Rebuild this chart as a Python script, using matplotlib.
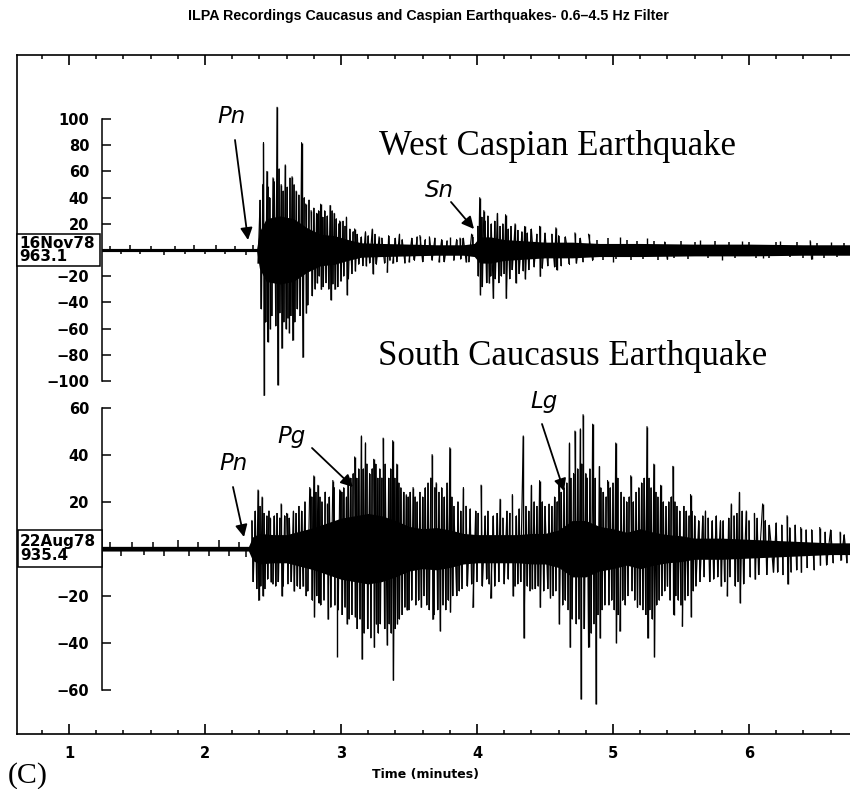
import matplotlib
matplotlib.use('Agg')
from matplotlib import pyplot as plt
from matplotlib.patches import Rectangle
import numpy as np

W, H = 850, 789

# x range of the frame (minutes)
x_left, x_right = 0.6176, 6.7426

# ---- West Caspian trace (16Nov78) ----
top_onset = 2.385
# half width of the solid black core of the trace
top_env_t = [1.24, 2.38, 2.40, 2.45, 2.55, 2.65, 2.75, 2.85, 2.95, 3.05, 3.15, 3.30,
             3.50, 3.70, 3.90, 3.98, 4.02, 4.10, 4.20, 4.35, 4.50, 4.70, 4.90, 5.20,
             5.60, 6.00, 6.40, 6.74]
top_core = [1.2, 1.2, 14, 24, 26, 24, 17, 12, 11, 8, 5.5, 5,
            4.5, 4, 4, 5, 10, 10, 8, 7, 6, 6, 5, 5,
            4.5, 4.5, 4, 4]
# largest peaks
top_spk_t = [2.39, 2.43, 2.435, 2.455, 2.46, 2.48, 2.50, 2.53, 2.535, 2.56, 2.565,
             2.59, 2.595, 2.62, 2.64, 2.645, 2.67, 2.71, 2.72, 2.74, 2.745, 2.78,
             2.82, 2.825, 2.85, 2.855, 2.92, 2.925, 2.95, 2.955, 2.99, 3.04, 3.045,
             3.10, 3.105, 3.18, 3.185, 3.23, 3.235, 3.28, 3.34, 3.38, 3.43, 3.50,
             3.58, 3.65, 3.72, 3.80, 3.875, 3.92, 3.96, 4.02, 4.025, 4.05, 4.09,
             4.12, 4.15, 4.21, 4.215, 4.28, 4.285, 4.35, 4.355, 4.46, 4.465, 4.58,
             4.585, 4.72, 4.73, 4.82, 5.00, 5.05, 5.25, 5.40, 5.64, 5.80, 5.95,
             6.10, 6.23, 6.45, 6.46, 6.60]
top_spk_v = [-10, 82, -111, 60, -70, -60, 55, 109, -103, 50, -75,
             65, -60, -63, 56, -69, 45, 82, -82, 35, -48, 30,
             28, -25, 35, -30, 34, -38, 28, -30, 22, 25, -34,
             16, -16, 14, -12, 16, -18, 10, -17, -10, 12, -9,
             11, 10, -9, 10, 9, -9, 12, 40, -34, 30, -25,
             -37, 28, 27, -37, 20, -25, 18, -22, 18, -20, 17,
             -15, 13, -10, 12, -9, 10, 9, -7, 8, -8, 7,
             -6, 7, 7, -7, 6]
# smaller swings
top_wig_t = [1.30, 1.38, 1.45, 1.52, 1.60, 1.70, 1.78, 1.85, 1.92, 2.00, 2.08, 2.15,
             2.22, 2.30, 2.35, 2.405, 2.415, 2.425, 2.445, 2.465, 2.475, 2.49, 2.51,
             2.52, 2.545, 2.55, 2.575, 2.58, 2.605, 2.61, 2.625, 2.63, 2.655, 2.66,
             2.68, 2.69, 2.70, 2.73, 2.755, 2.765, 2.79, 2.80, 2.81, 2.835, 2.84,
             2.865, 2.87, 2.88, 2.89, 2.90, 2.91, 2.935, 2.94, 2.965, 2.975, 2.985,
             3.00, 3.015, 3.02, 3.03, 3.055, 3.065, 3.08, 3.09, 3.12, 3.13, 3.15,
             3.16, 3.20, 3.21, 3.25, 3.26, 3.30, 3.32, 3.35, 3.36, 3.40, 3.41, 3.45,
             3.47, 3.52, 3.54, 3.56, 3.60, 3.62, 3.67, 3.69, 3.74, 3.76, 3.78, 3.83,
             3.85, 3.88, 3.90, 3.94, 3.97, 4.005, 4.01, 4.035, 4.04, 4.06, 4.07,
             4.08, 4.10, 4.105, 4.13, 4.135, 4.16, 4.17, 4.18, 4.19, 4.20, 4.23,
             4.24, 4.25, 4.26, 4.30, 4.31, 4.33, 4.34, 4.37, 4.38, 4.40, 4.42, 4.44,
             4.48, 4.50, 4.52, 4.55, 4.57, 4.60, 4.62, 4.65, 4.68, 4.76, 4.78, 4.85,
             4.88, 4.93, 4.96, 5.02, 5.10, 5.13, 5.18, 5.22, 5.30, 5.33, 5.38, 5.45,
             5.50, 5.55, 5.60, 5.70, 5.75, 5.85, 5.90, 6.00, 6.05, 6.15, 6.20, 6.30,
             6.35, 6.40, 6.50, 6.55, 6.65, 6.70]
top_wig_v = [3, -3, 3.5, -3, 3, -3.5, 3, -3, 4, -3, 3.5, -3,
             3, -3.5, 4, 38, -45, 50, -55, 48, 40, -50, 52,
             -58, 62, -48, 45, -55, 48, -52, 55, -50, 50, -55,
             -45, 42, -50, 40, -42, 38, -35, 32, -30, 30, -20,
             25, -28, 30, -25, 26, -30, 30, -26, 24, -28, 20,
             -24, 22, -20, 18, -22, 16, -18, 14, 12, -11, 10,
             -12, 11, -10, 12, -11, 9, -10, 11, -8, 9, -9, 8,
             -10, 9, -8, 10, -9, 8, -8, 9, 8, -9, 7, -8,
             8, -7, 9, -9, 10, 18, -20, 25, -28, 22, -25,
             26, -20, 20, 22, -22, -25, 18, -20, 20, -18, 16,
             -22, 18, -15, 15, -18, 14, -16, 13, -15, 16, -13, 12,
             -14, 13, -12, 12, -13, 11, -12, 10, -11, 9, -9, -8,
             8, -8, 9, -7, 8, -8, 7, -7, 7, -8, 6, -6,
             7, -7, 6, -6, 7, 6, -6, 6, -6, -6, 6, -5,
             6, -6, 5, -6, -5, 5]

# ---- South Caucasus trace (22Aug78) ----
bot_onset = 2.335
bot_env_t = [1.24, 2.32, 2.35, 2.40, 2.50, 2.60, 2.70, 2.80, 2.90, 3.00, 3.10, 3.20,
             3.30, 3.40, 3.50, 3.60, 3.70, 3.80, 3.90, 4.00, 4.10, 4.20, 4.30, 4.40,
             4.50, 4.60, 4.70, 4.80, 4.90, 5.00, 5.10, 5.20, 5.30, 5.40, 5.50, 5.60,
             5.80, 6.00, 6.20, 6.40, 6.60, 6.74]
bot_core = [1, 1, 5, 6.5, 6, 6, 7.5, 9, 11, 13, 14, 15,
            14, 12, 9.5, 8.5, 9, 8, 6.5, 6, 6, 6, 6, 6.5,
            6.5, 8, 12, 12, 9.5, 8.5, 7, 8.5, 7, 6, 5.5, 4.5,
            4.5, 4, 3.5, 3, 2.5, 2.5]
bot_spk_t = [2.39, 2.395, 2.42, 2.425, 2.48, 2.485, 2.56, 2.565, 2.60, 2.65, 2.655,
             2.72, 2.77, 2.80, 2.805, 2.83, 2.835, 2.90, 2.905, 2.94, 2.97, 2.99,
             3.04, 3.045, 3.10, 3.105, 3.15, 3.155, 3.18, 3.24, 3.245, 3.26, 3.31,
             3.34, 3.38, 3.385, 3.41, 3.415, 3.48, 3.485, 3.53, 3.59, 3.67, 3.675,
             3.70, 3.73, 3.80, 3.805, 3.90, 3.97, 4.03, 4.10, 4.17, 4.26, 4.265,
             4.34, 4.345, 4.40, 4.405, 4.46, 4.465, 4.54, 4.60, 4.605, 4.68, 4.685,
             4.72, 4.76, 4.765, 4.78, 4.82, 4.85, 4.875, 4.90, 4.905, 4.96, 5.02,
             5.025, 5.05, 5.13, 5.18, 5.25, 5.255, 5.30, 5.305, 5.35, 5.40, 5.44,
             5.445, 5.51, 5.57, 5.575, 5.68, 5.79, 5.795, 5.84, 5.87, 5.93, 5.935,
             5.98, 6.04, 6.045, 6.10, 6.18, 6.28, 6.285, 6.38, 6.385, 6.52, 6.525,
             6.67, 6.675]
bot_spk_v = [25, -22, 22, -20, 13, -14, 19, -20, 15, 16, -18,
             -16, 26, 31, -29, 27, -23, 19, -30, 29, -46, 25,
             22, -32, 39, -29, 48, -47, 45, 38, -42, -32, 47,
             -41, 46, -56, 36, -32, 23, -26, 26, -25, 40, -30,
             28, -35, 43, -27, 26, -25, 27, -21, 21, 23, -20,
             48, -38, 27, -17, 29, -25, -21, 29, -32, 45, -42,
             50, 51, -64, 57, -42, 53, -66, 35, -38, 29, 45,
             -40, -35, 31, -25, 52, -38, 36, -46, 27, -16, 35,
             -28, -33, 23, -29, 16, 12, -16, -20, 19, 24, -23,
             16, 15, -13, 19, -10, 14, -15, 9, -10, 9, -7,
             7, -5]
bot_wig_t = [1.30, 1.38, 1.46, 1.55, 1.62, 1.70, 1.80, 1.88, 1.95, 2.03, 2.10, 2.18,
             2.25, 2.30, 2.345, 2.355, 2.37, 2.38, 2.405, 2.41, 2.435, 2.44, 2.455,
             2.46, 2.47, 2.50, 2.51, 2.52, 2.53, 2.54, 2.55, 2.575, 2.585, 2.61,
             2.62, 2.635, 2.67, 2.68, 2.69, 2.70, 2.71, 2.735, 2.745, 2.755, 2.785,
             2.79, 2.815, 2.82, 2.845, 2.85, 2.86, 2.875, 2.885, 2.915, 2.925, 2.95,
             2.955, 2.98, 3.005, 3.01, 3.02, 3.03, 3.055, 3.06, 3.07, 3.08, 3.09,
             3.115, 3.12, 3.13, 3.14, 3.165, 3.17, 3.19, 3.195, 3.21, 3.22, 3.23,
             3.255, 3.27, 3.275, 3.285, 3.29, 3.30, 3.32, 3.325, 3.35, 3.355, 3.365,
             3.37, 3.395, 3.40, 3.425, 3.43, 3.44, 3.45, 3.46, 3.47, 3.495, 3.50,
             3.51, 3.52, 3.545, 3.55, 3.56, 3.57, 3.58, 3.60, 3.61, 3.62, 3.63,
             3.64, 3.65, 3.66, 3.685, 3.69, 3.71, 3.72, 3.74, 3.75, 3.76, 3.77,
             3.78, 3.79, 3.815, 3.82, 3.83, 3.85, 3.86, 3.87, 3.88, 3.89, 3.92,
             3.93, 3.95, 3.96, 3.99, 4.00, 4.01, 4.04, 4.06, 4.07, 4.08, 4.09,
             4.12, 4.13, 4.15, 4.16, 4.19, 4.20, 4.22, 4.23, 4.24, 4.28, 4.29,
             4.30, 4.31, 4.32, 4.36, 4.37, 4.38, 4.39, 4.42, 4.43, 4.44, 4.45,
             4.48, 4.49, 4.50, 4.52, 4.53, 4.55, 4.56, 4.57, 4.58, 4.59, 4.62,
             4.63, 4.64, 4.65, 4.66, 4.67, 4.69, 4.70, 4.71, 4.73, 4.74, 4.75,
             4.77, 4.79, 4.80, 4.81, 4.83, 4.84, 4.86, 4.87, 4.89, 4.91, 4.92,
             4.93, 4.94, 4.95, 4.97, 4.98, 4.99, 5.00, 5.01, 5.035, 5.04, 5.06,
             5.07, 5.08, 5.09, 5.10, 5.11, 5.12, 5.14, 5.15, 5.16, 5.17, 5.19,
             5.20, 5.21, 5.22, 5.23, 5.24, 5.265, 5.27, 5.28, 5.29, 5.315, 5.32,
             5.33, 5.34, 5.36, 5.37, 5.38, 5.39, 5.41, 5.42, 5.43, 5.455, 5.46,
             5.47, 5.48, 5.49, 5.50, 5.52, 5.53, 5.54, 5.55, 5.56, 5.58, 5.59,
             5.60, 5.61, 5.63, 5.64, 5.66, 5.67, 5.70, 5.71, 5.73, 5.74, 5.76,
             5.77, 5.81, 5.82, 5.85, 5.86, 5.89, 5.90, 5.91, 5.92, 5.95, 5.96,
             6.00, 6.01, 6.06, 6.07, 6.12, 6.13, 6.15, 6.20, 6.21, 6.24, 6.25,
             6.30, 6.31, 6.34, 6.35, 6.42, 6.43, 6.46, 6.48, 6.56, 6.57, 6.60,
             6.62, 6.70, 6.72]
bot_wig_v = [3, -3, 3, -2.5, 3, -3, 3.5, -3, 3, -3, 3.5, -3,
             3, -3.5, 12, -14, 16, -17, 18, -16, 15, -17, 14,
             -13, 16, -15, 14, -16, 15, -14, 13, -16, 14, -15,
             13, -14, 15, -16, 18, -17, 16, 20, -20, -18, 22,
             -22, 24, -20, 22, -24, 20, -22, 24, 22, -25, 26,
             -24, -26, 24, -28, 26, -25, 28, -30, 30, -28, 32,
             30, -34, 34, -30, 34, -36, 36, -34, 32, -38, 34,
             36, 30, -36, 34, -32, 30, -34, 36, 30, -32, 34,
             -36, 30, -34, 28, -30, 26, -28, 24, -25, 22, -26,
             24, -22, 22, -24, 20, -22, 24, 22, -20, 26, -24,
             28, -26, 30, -28, 26, -26, 24, 26, -24, 22, -26,
             28, -22, 22, -20, 18, -20, 20, -18, 16, -17, 18,
             -16, 17, -15, 16, -14, 15, -16, 14, -13, 16, -15,
             14, -16, 15, -14, 13, -15, 16, -13, 15, -16, 14,
             -15, 17, -14, 18, -16, 16, -18, 20, -17, 18, -16,
             20, -18, 18, -17, 19, 18, -20, 22, -18, 20, 24,
             -24, 26, -22, 28, -26, 30, -30, 32, -32, 34, -30,
             36, -34, 32, 30, 34, -36, -32, 30, -28, 26, -26,
             24, -24, 22, -24, 26, -22, 28, -26, 30, -28, 24,
             -22, 22, -24, 20, -20, 22, -18, 20, -22, 24, 26,
             -24, 28, -26, 30, -28, 30, -26, 26, -30, 24, -24,
             22, -22, -20, 20, -18, 18, 20, -22, 22, 20, -20,
             18, -22, 16, -24, 18, -22, 16, -20, 14, 16, -18,
             14, -16, 12, -14, 14, -12, 13, -14, 12, -13, 14,
             -12, 12, -14, 13, -12, 14, -16, 15, -14, 16, -15,
             12, -12, 13, -11, 12, -11, 10, 11, -10, 10, -11,
             9, -10, 10, -9, 8, -8, 8, -9, 7, -7, 8,
             -6, 6, -6]

top_ticks = [-100, -80, -60, -40, -20, 20, 40, 60, 80, 100]
bot_ticks = [-60, -40, -20, 20, 40, 60]


def fx(px):
    return px / W


def fy(py):
    return 1 - py / H


fig = plt.figure(figsize=(8.5, 7.89), dpi=100)
rect = [fx(17), fy(734), fx(850) - fx(17), fy(55) - fy(734)]

# frame with time axis
ax = fig.add_axes(rect)
ax.set_xlim(x_left, x_right)
ax.set_ylim(0, 1)
ax.spines['right'].set_visible(False)
for s in ['left', 'top', 'bottom']:
    ax.spines[s].set_linewidth(1.2)
ax.set_yticks([])
ax.xaxis.set_major_locator(matplotlib.ticker.MultipleLocator(1))
ax.xaxis.set_minor_locator(matplotlib.ticker.MultipleLocator(0.2))
ax.tick_params(axis='x', which='both', direction='in', top=True, bottom=True)
ax.tick_params(axis='x', which='major', length=7.5, width=1.2, pad=9,
               labeltop=False)
ax.tick_params(axis='x', which='minor', length=3, width=1.1)
for lab in ax.get_xticklabels():
    lab.set_fontfamily('DejaVu Sans')
    lab.set_fontweight('bold')
    lab.set_fontsize(10.5)

# trace axes: (zero pixel, px per unit, ticks, bound, onset, core, peaks, swings)
panels = [
    (250, 1.31, top_ticks, 100, top_onset, top_env_t, top_core, top_spk_t, top_spk_v,
     top_wig_t, top_wig_v),
    (548.7, 2.35, bot_ticks, 60, bot_onset, bot_env_t, bot_core, bot_spk_t, bot_spk_v,
     bot_wig_t, bot_wig_v),
]
for zero, scale, ticks, bound, onset, et, core, st, sv, wt, wv in panels:
    a = fig.add_axes(rect)
    a.patch.set_visible(False)
    a.set_xlim(x_left, x_right)
    a.set_ylim((zero - 734) / scale, (zero - 55) / scale)
    for s in ['right', 'top', 'bottom']:
        a.spines[s].set_visible(False)
    a.spines['left'].set_position(('data', 1.24))
    a.spines['left'].set_bounds(-bound, bound)
    a.spines['left'].set_linewidth(1.1)
    a.set_xticks([])
    a.set_yticks(ticks)
    a.tick_params(axis='y', direction='in', length=6.5, width=1.1, pad=9)
    for lab in a.get_yticklabels():
        lab.set_fontfamily('DejaVu Sans')
        lab.set_fontweight('bold')
        lab.set_fontsize(10.5)
    core = np.array(core)
    a.fill_between(et, -core, core, color='black', lw=0)
    a.vlines(wt, 0, wv, color='black', lw=1.1)
    a.vlines(st, 0, sv, color='black', lw=1.0)
    # join neighbouring swings of opposite sign after the first arrival
    mt = np.array(st + wt)
    mv = np.array(sv + wv)
    order = np.argsort(mt)
    mt, mv = mt[order], mv[order]
    keep = mt > onset
    mt, mv = mt[keep], mv[keep]
    cut = (np.sign(mv[1:]) == np.sign(mv[:-1])) | (np.diff(mt) > 0.03)
    idx = np.nonzero(cut)[0] + 1
    a.plot(np.insert(mt, idx, np.nan), np.insert(mv, idx, np.nan),
           color='black', lw=0.8)

# station boxes
for (x0, y0, x1, y1), label in [((17, 234, 100, 266), '16Nov78\n963.1'),
                                ((18, 530, 102, 567), '22Aug78\n935.4')]:
    fig.patches.append(Rectangle((fx(x0), fy(y1)), fx(x1) - fx(x0), fy(y0) - fy(y1),
                                 transform=fig.transFigure, fill=True,
                                 facecolor='white', edgecolor='black', lw=1.1))
    fig.text(fx(x0 + 2), fy((y0 + y1) / 2), label, ha='left', va='center',
             fontsize=11, fontweight='bold', family='DejaVu Sans', linespacing=0.85)

# phase labels and arrows: (text, text x, baseline y, arrow start, arrow tip)
phases = [('Pn', 217, 123, (235, 140), (248, 240)),
          ('Sn', 425, 197, (451, 202), (474, 229)),
          ('Pn', 219, 470, (233, 487), (244, 537)),
          ('Pg', 277, 443, (312, 448), (353, 487)),
          ('Lg', 530, 408, (542, 424), (564, 491))]
for txt, tx, ty, (sx, sy), (ex, ey) in phases:
    fig.text(fx(tx), fy(ty), txt, ha='left', va='baseline', fontsize=16.5,
             style='italic', family='DejaVu Sans')
    ax.annotate('', xy=(fx(ex), fy(ey)), xycoords='figure fraction',
                xytext=(fx(sx), fy(sy)), textcoords='figure fraction',
                arrowprops=dict(arrowstyle='-|>', color='black', lw=1.3,
                                mutation_scale=18, shrinkA=0, shrinkB=0))

fig.text(fx(379), fy(155), 'West Caspian Earthquake', ha='left', va='baseline',
         fontsize=25, family='Liberation Serif')
fig.text(fx(378), fy(365), 'South Caucasus Earthquake', ha='left', va='baseline',
         fontsize=25, family='Liberation Serif')

fig.text(fx(428), fy(20), 'ILPA Recordings Caucasus and Caspian Earthquakes- 0.6\u20134.5 Hz Filter',
         ha='center', va='baseline', fontsize=10.3, fontweight='bold',
         family='Liberation Sans')
fig.text(fx(425), fy(778), 'Time (minutes)', ha='center', va='baseline',
         fontsize=9, fontweight='bold', family='DejaVu Sans')
fig.text(fx(8), fy(783), '(C)', ha='left', va='baseline', fontsize=21.5,
         family='Liberation Serif')

fig.savefig('out.png', dpi=100)
